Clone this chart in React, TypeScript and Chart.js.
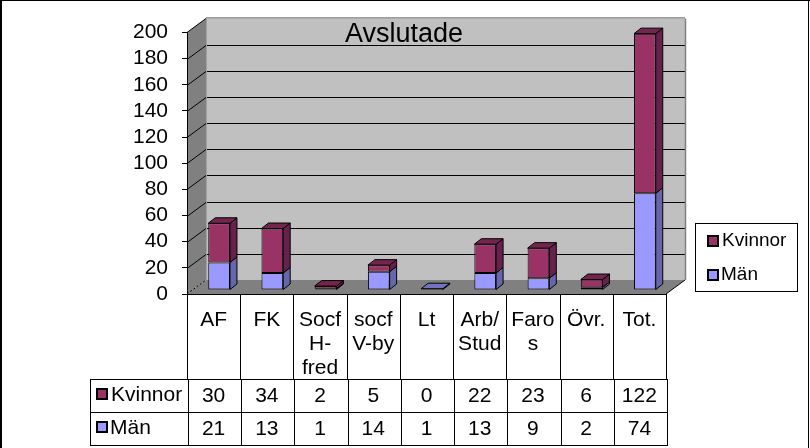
import React, { useEffect, useRef } from "react";
import { Chart, registerables } from "chart.js";

Chart.register(...registerables);

const categories: (string | string[])[] = ["AF", "FK", ["Socf", "H-", "fred"], ["socf", "V-by"], "Lt", ["Arb/", "Stud"], ["Faro", "s"], "Övr.", "Tot."];
const kvinnor = [30, 34, 2, 5, 0, 22, 23, 6, 122];
const man = [21, 13, 1, 14, 1, 13, 9, 2, 74];
const titleText = "Avslutade";

const FONT = '"Liberation Sans"';
const C_K = "#993366";
const C_K_SIDE = "#66224a";
const C_K_TOP = "#73264d";
const C_M = "#9999ff";
const C_M_SIDE = "#6666aa";
const C_M_TOP = "#7373bf";

const WALL_DX = 19;
const WALL_DY = 14;
const BAR_OFF_X = 5.5;
const BAR_OFF_Y = 4;
const BAR_DX = 7;
const BAR_DY = 5.5;

function poly(ctx: CanvasRenderingContext2D, pts: number[][], fill: string, stroke?: string) {
  ctx.beginPath();
  pts.forEach((p, i) => (i ? ctx.lineTo(p[0], p[1]) : ctx.moveTo(p[0], p[1])));
  ctx.closePath();
  ctx.fillStyle = fill;
  ctx.fill();
  if (stroke) {
    ctx.strokeStyle = stroke;
    ctx.lineWidth = 1;
    ctx.stroke();
  }
}

function line(ctx: CanvasRenderingContext2D, x1: number, y1: number, x2: number, y2: number, color = "#000", width = 1) {
  ctx.beginPath();
  ctx.moveTo(x1, y1);
  ctx.lineTo(x2, y2);
  ctx.strokeStyle = color;
  ctx.lineWidth = width;
  ctx.stroke();
}

function swatch(ctx: CanvasRenderingContext2D, x: number, y: number, s: number, color: string) {
  ctx.fillStyle = color;
  ctx.fillRect(x, y, s, s);
  ctx.strokeStyle = "#000";
  ctx.lineWidth = 2;
  ctx.strokeRect(x, y, s, s);
}

const scene3d = {
  id: "scene3d",
  beforeDraw(chart: any) {
    const { ctx, width, height } = chart;
    const { left, right, top, bottom } = chart.chartArea;
    const y = chart.scales.y;
    // centre the title on the picture, not on the box that the axis leaves free
    if (chart.titleBlock) chart.titleBlock.left = 142;
    ctx.save();
    ctx.fillStyle = "#fff";
    ctx.fillRect(0, 0, width, height);
    // walls
    poly(ctx, [[left + WALL_DX, top - WALL_DY], [right + WALL_DX, top - WALL_DY], [right + WALL_DX, bottom - WALL_DY], [left + WALL_DX, bottom - WALL_DY]], "#c0c0c0");
    poly(ctx, [[left, top], [left + WALL_DX, top - WALL_DY], [left + WALL_DX, bottom - WALL_DY], [left, bottom]], "#808080");
    poly(ctx, [[left, bottom], [right, bottom], [right + WALL_DX, bottom - WALL_DY], [left + WALL_DX, bottom - WALL_DY]], "#808080");
    // grid on the walls
    (y.ticks as any[]).forEach((t) => {
      const py = Math.round(y.getPixelForValue(t.value)) + 0.5;
      if (t.value > 0 && t.value < 200) {
        line(ctx, left + WALL_DX, py - WALL_DY, right + WALL_DX, py - WALL_DY);
      }
      if (t.value > 0) line(ctx, left, py, left + WALL_DX, py - WALL_DY);
    });
    // wall edges
    line(ctx, left + WALL_DX, top - WALL_DY - 0.5, right + WALL_DX, top - WALL_DY - 0.5, "#606060", 1);
    line(ctx, right + WALL_DX + 0.5, top - WALL_DY, right + WALL_DX + 0.5, bottom - WALL_DY, "#808080", 1.5);
    line(ctx, left + WALL_DX + 0.5, top - WALL_DY, left + WALL_DX + 0.5, bottom - WALL_DY, "#a0a0a0", 1);
    ctx.setLineDash([2, 2]);
    line(ctx, left, bottom, left + WALL_DX, bottom - WALL_DY);
    ctx.setLineDash([]);
    line(ctx, right, bottom, right + WALL_DX, bottom - WALL_DY);
    ctx.restore();
  },
  beforeDatasetsDraw(chart: any) {
    chart.ctx.save();
    chart.ctx.translate(BAR_OFF_X, -BAR_OFF_Y);
  },
  afterDatasetsDraw(chart: any) {
    const { ctx } = chart;
    const mM = chart.getDatasetMeta(0).data;
    const mK = chart.getDatasetMeta(1).data;
    categories.forEach((_, i) => {
      const segs: [any, string, string, number][] = [
        [mM[i], C_M_SIDE, C_M_TOP, man[i]],
        [mK[i], C_K_SIDE, C_K_TOP, kvinnor[i]],
      ];
      let last: any = null;
      segs.forEach((s) => {
        if (s[3] <= 0) return;
        const e = s[0];
        const xr = e.x + e.width / 2;
        poly(ctx, [[xr, e.y], [xr + BAR_DX, e.y - BAR_DY], [xr + BAR_DX, e.base - BAR_DY], [xr, e.base]], s[1], "#000");
        last = s;
      });
      if (last) {
        const e = last[0];
        const xl = e.x - e.width / 2;
        const xr = e.x + e.width / 2;
        poly(ctx, [[xl, e.y], [xr, e.y], [xr + BAR_DX, e.y - BAR_DY], [xl + BAR_DX, e.y - BAR_DY]], last[2], "#000");
      }
    });
    ctx.restore();
  },
  afterDraw(chart: any) {
    const { ctx, width, height } = chart;
    const { left, right, bottom } = chart.chartArea;
    const x = chart.scales.x;
    const n = categories.length;
    const bounds: number[] = [];
    for (let i = 0; i <= n; i++) bounds.push(i < n ? x.getPixelForValue(i) - (right - left) / n / 2 : right);
    const r1 = bottom + 85;
    const r2 = r1 + 33;
    const r3 = r2 + 33;
    const tableLeft = 90;
    ctx.save();
    // data table
    bounds.forEach((b) => line(ctx, Math.round(b) + 0.5, bottom, Math.round(b) + 0.5, r1));
    bounds.forEach((b) => line(ctx, Math.round(b) + 1.5, r1, Math.round(b) + 1.5, r3));
    line(ctx, tableLeft + 0.5, r1, tableLeft + 0.5, r3);
    [r1, r2, r3].forEach((ry) => line(ctx, tableLeft, ry + 0.5, right + 2, ry + 0.5));
    ctx.font = `21px ${FONT}`;
    ctx.fillStyle = "#000";
    ctx.textBaseline = "middle";
    ctx.textAlign = "center";
    categories.forEach((_, i) => {
      const cx = x.getPixelForValue(i);
      ctx.fillText(String(kvinnor[i]), cx, (r1 + r2) / 2 + 0.5);
      ctx.fillText(String(man[i]), cx, (r2 + r3) / 2 + 0.5);
    });
    ctx.textAlign = "left";
    ctx.fillText("Kvinnor", tableLeft + 21, (r1 + r2) / 2);
    ctx.fillText("Män", tableLeft + 20, (r2 + r3) / 2);
    swatch(ctx, tableLeft + 7, r1 + 10, 10, C_K);
    swatch(ctx, tableLeft + 7, r2 + 10, 10, C_M);
    // legend
    ctx.strokeStyle = "#000";
    ctx.lineWidth = 1;
    ctx.strokeRect(695.5, 223.5, 102, 68);
    swatch(ctx, 708, 236, 10, C_K);
    swatch(ctx, 708, 270, 10, C_M);
    ctx.fillStyle = "#000";
    ctx.font = `19px ${FONT}`;
    ctx.fillText("Kvinnor", 722, 241);
    ctx.fillText("Män", 721, 275);
    // frame
    ctx.fillStyle = "#000";
    ctx.fillRect(0, 0, 2, height);
    ctx.fillRect(0, 0, width, 1);
    ctx.fillRect(width - 2, 0, 1, height);
    ctx.restore();
  },
};

export default function App() {
  const ref = useRef<HTMLCanvasElement>(null);
  useEffect(() => {
    const chart = new Chart(ref.current as HTMLCanvasElement, {
      type: "bar",
      plugins: [scene3d as any],
      data: {
        labels: categories as any,
        datasets: [
          { label: "Män", data: man, backgroundColor: C_M, borderColor: "#000", borderWidth: 1, borderSkipped: false, clip: false as any },
          { label: "Kvinnor", data: kvinnor, backgroundColor: C_K, borderColor: "#000", borderWidth: 1, borderSkipped: false, clip: false as any },
        ],
      },
      options: {
        responsive: false,
        animation: false,
        events: [],
        layout: { padding: { left: 87, right: 144, top: 0, bottom: 69 } },
        datasets: { bar: { categoryPercentage: 1, barPercentage: 0.408 } },
        plugins: {
          legend: { display: false },
          tooltip: { enabled: false },
          title: {
            display: true,
            text: titleText,
            color: "#000",
            fullSize: true,
            font: { family: FONT, size: 27, weight: "normal", lineHeight: 1.2 },
            padding: { top: 18, bottom: -18 },
          },
        },
        scales: {
          x: {
            stacked: true,
            afterFit: (s: any) => { s.height = 85; },
            grid: { display: false, drawTicks: false },
            border: { display: true, color: "#000" },
            ticks: { color: "#000", maxRotation: 0, minRotation: 0, autoSkip: false, padding: 14, font: { family: FONT, size: 21, lineHeight: 1.15 } },
          },
          y: {
            stacked: true,
            min: 0,
            max: 200,
            afterFit: (s: any) => { s.width = 100; },
            grid: { drawOnChartArea: false, drawTicks: true, tickLength: 5, color: "#000" },
            border: { display: true, color: "#000" },
            ticks: { stepSize: 20, autoSkip: false, color: "#000", padding: 14, font: { family: FONT, size: 21 } },
          },
        },
      },
    });
    return () => chart.destroy();
  }, []);
  return (
    <div style={{ position: "fixed", left: 0, top: 0, width: 810, height: 448 }}>
      <canvas ref={ref} width={810} height={448} style={{ display: "block" }} />
    </div>
  );
}
